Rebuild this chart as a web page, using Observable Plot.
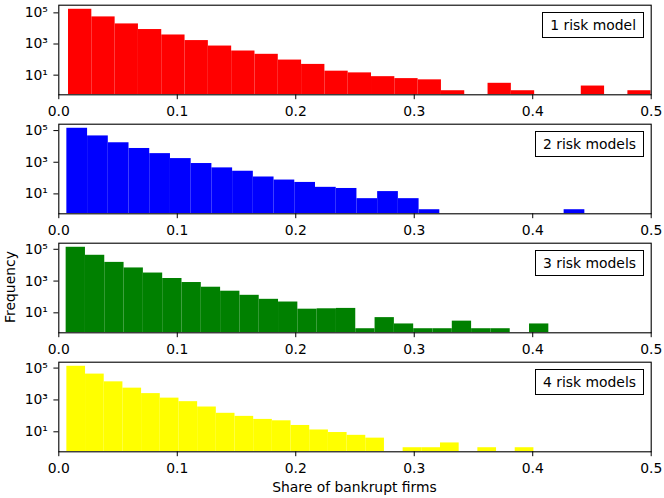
<!DOCTYPE html>
<html><head><meta charset="utf-8">
<script src="https://cdn.jsdelivr.net/npm/d3@7"></script>
<script src="https://cdn.jsdelivr.net/npm/@observablehq/plot@0.6"></script>
<style>
body{margin:0;background:#fff;}
#fig{position:relative;width:664px;height:498px;font-family:"DejaVu Sans";font-size:13.9px;color:#000;background:#fff;overflow:hidden;}
.panel{position:absolute;left:0;width:664px;height:119px;}
.panel svg{position:absolute;left:0;top:0;}
.legend{position:absolute;right:20px;top:11.7px;border:1px solid #000;background:#fff;padding:3px 7px;line-height:18px;white-space:nowrap;}
#ylab{position:absolute;left:9.5px;top:287px;transform:translate(-50%,-50%) rotate(-90deg);white-space:nowrap;line-height:16px;}
#xlab{position:absolute;left:354.5px;top:479.3px;transform:translateX(-50%);white-space:nowrap;line-height:16px;}
</style>
</head><body>
<div id="fig"></div>
<script>
// Histogram bin counts (25 equal-width bins per panel)
const counts1 = [170000, 55000, 19500, 8500, 3800, 1660, 740, 355, 218, 93, 49, 18, 14, 8, 6, 5, 1, 0, 3, 1, 0, 0, 2, 0, 1];
const counts2 = [140000, 46000, 17000, 7400, 3500, 1700, 830, 440, 270, 117, 75, 53, 26, 22, 5, 14, 5, 1, 0, 0, 0, 0, 0, 0, 1];
const counts3 = [134000, 42000, 15000, 6700, 3200, 1450, 810, 410, 230, 127, 71, 48, 17, 18, 19, 1, 5, 2, 1, 1, 3, 1, 1, 0, 2];
const counts4 = [130000, 42000, 13700, 5500, 2500, 1300, 780, 360, 145, 93, 60, 49, 25, 13, 9, 6, 4, 0, 1, 1, 2, 0, 1, 0, 1];
// Range of the share of bankrupt firms per panel (histogram range)
const shareMin = [0.0082, 0.0068, 0.0062, 0.0068];
const shareMax = [0.5, 0.444, 0.4136, 0.401];
const nBins = 25;
const labels = ["1 risk model", "2 risk models", "3 risk models", "4 risk models"];
const colors = ["#ff0000", "#0000ff", "#008000", "#ffff00"];
const xTicks = [0, 0.1, 0.2, 0.3, 0.4, 0.5];
const yTicks = [10, 1000, 100000];
const xLabel = "Share of bankrupt firms";
const yLabel = "Frequency";

const series = [counts1, counts2, counts3, counts4];
const sup = {"0":"⁰","1":"¹","2":"²","3":"³","4":"⁴","5":"⁵","6":"⁶","7":"⁷","8":"⁸","9":"⁹","-":"⁻"};
const fmtPow = d => "10" + String(Math.round(Math.log10(d))).split("").map(c => sup[c]).join("");
const fig = document.getElementById("fig");

series.forEach((counts, k) => {
  const w = (shareMax[k] - shareMin[k]) / nBins;
  const L = Math.log10(d3.max(counts));
  const lo = Math.pow(10, -0.05 * L), hi = Math.pow(10, 1.05 * L);
  const bins = counts.map((c, i) => ({x1: shareMin[k] + i * w, x2: shareMin[k] + (i + 1) * w, c})).filter(b => b.c > 0);
  const plot = Plot.plot({
    width: 664, height: 119,
    marginLeft: 58.3, marginRight: 13.3, marginTop: 4.7, marginBottom: 24.7,
    style: {fontFamily: "DejaVu Sans", fontSize: "13.9px", background: "transparent", overflow: "visible", color: "black"},
    x: {domain: [0, 0.5]},
    y: {type: "log", domain: [lo, hi]},
    marks: [
      Plot.rect(bins, {x1: "x1", x2: "x2", y1: () => lo, y2: "c", fill: colors[k], clip: true}),
      Plot.frame({stroke: "black", strokeWidth: 1.1}),
      Plot.axisX({ticks: xTicks, tickFormat: d3.format(".1f"), tickSize: 4.9, tickPadding: 6.8, label: null}),
      Plot.axisY({ticks: yTicks, tickFormat: fmtPow, tickSize: 4.9, tickPadding: 6, label: null})
    ]
  });
  const panel = document.createElement("div");
  panel.className = "panel";
  panel.style.top = (k * 119) + "px";
  panel.appendChild(plot);
  const leg = document.createElement("div");
  leg.className = "legend";
  leg.textContent = labels[k];
  panel.appendChild(leg);
  fig.appendChild(panel);
});

const yl = document.createElement("div");
yl.id = "ylab"; yl.textContent = yLabel; fig.appendChild(yl);
const xl = document.createElement("div");
xl.id = "xlab"; xl.textContent = xLabel; fig.appendChild(xl);
</script>
</body></html>
